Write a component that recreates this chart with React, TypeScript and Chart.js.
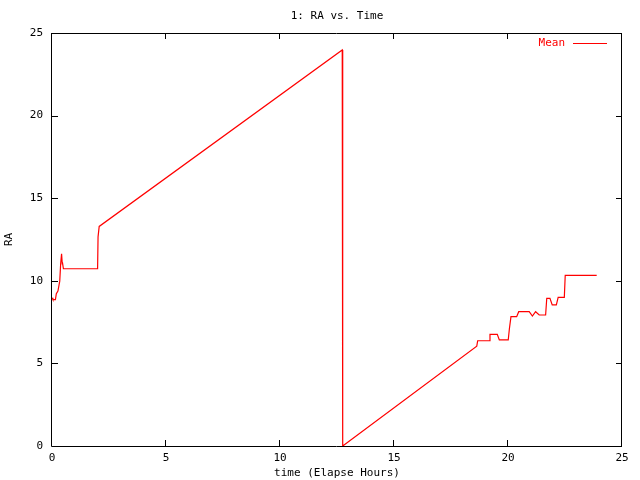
import React, { useEffect, useRef } from "react";
import { Chart, registerables } from "chart.js";

Chart.register(...registerables);

const chartTitle = "1: RA vs. Time";
const xAxisTitle = "time (Elapse Hours)";
const yAxisTitle = "RA";
const seriesLabel = "Mean";

const xTicks = [0, 5, 10, 15, 20, 25];
const yTicks = [0, 5, 10, 15, 20, 25];

const timeHours = [
  0, 0.04, 0.15, 0.19, 0.26, 0.34, 0.38, 0.42, 0.45, 0.46, 0.5, 1.98,
  2.0, 2.02, 2.07, 12.73, 12.73, 12.76, 12.76, 18.63, 18.67, 19.17, 19.21,
  19.53, 19.62, 20.01, 20.06, 20.13, 20.38, 20.47, 20.93, 21.07, 21.21,
  21.37, 21.65, 21.7, 21.84, 21.94, 22.12, 22.2, 22.47, 22.51, 23.89,
];

const raMean = [
  8.98, 8.86, 8.86, 9.22, 9.38, 9.98, 11.03, 11.63, 11.03, 11.1, 10.73, 10.73,
  10.77, 12.66, 13.29, 23.97, 12.04, 12.04, 0, 6.04, 6.37, 6.37, 6.76,
  6.76, 6.42, 6.42, 7.08, 7.83, 7.83, 8.13, 8.13, 7.87, 8.13,
  7.93, 7.93, 8.94, 8.94, 8.54, 8.54, 9.0, 9.0, 10.33, 10.33,
];

const FONT = "'DejaVu Sans Mono', monospace";

const gnuFrame = {
  id: "gnuFrame",
  beforeDatasetsDraw(chart: any) {
    const { ctx, chartArea } = chart;
    const { left, right, top, bottom } = chartArea;
    const xs = chart.scales.x;
    const ys = chart.scales.y;
    const tl = 6;
    ctx.save();
    ctx.strokeStyle = "#000";
    ctx.lineWidth = 1;
    ctx.beginPath();
    ctx.rect(Math.round(left) - 0.5, Math.round(top) + 0.5, Math.round(right - left), Math.round(bottom - top));
    for (const v of xTicks) {
      const px = Math.round(xs.getPixelForValue(v)) - 0.5;
      ctx.moveTo(px, bottom);
      ctx.lineTo(px, bottom - tl);
      ctx.moveTo(px, top);
      ctx.lineTo(px, top + tl);
    }
    for (const v of yTicks) {
      const py = Math.round(ys.getPixelForValue(v)) + 0.5;
      ctx.moveTo(left, py);
      ctx.lineTo(left + tl, py);
      ctx.moveTo(right, py);
      ctx.lineTo(right - tl, py);
    }
    ctx.stroke();
    ctx.restore();
  },
  afterDraw(chart: any) {
    const { ctx, chartArea } = chart;
    const ds = chart.data.datasets[0];
    const y = Math.round(chartArea.top + 10) + 0.5;
    const lineEnd = chartArea.right - 15;
    const lineStart = chartArea.right - 49;
    ctx.save();
    ctx.font = `11px ${FONT}`;
    ctx.fillStyle = ds.borderColor;
    ctx.textAlign = "right";
    ctx.textBaseline = "middle";
    ctx.fillText(ds.label, chartArea.right - 57, y);
    ctx.strokeStyle = ds.borderColor;
    ctx.lineWidth = 1;
    ctx.beginPath();
    ctx.moveTo(lineStart, y);
    ctx.lineTo(lineEnd, y);
    ctx.stroke();
    ctx.restore();
  },
};

export default function App() {
  const ref = useRef<HTMLCanvasElement | null>(null);

  useEffect(() => {
    if (!ref.current) return;
    const points = timeHours.map((t, i) => ({ x: t, y: raMean[i] }));
    const chart = new Chart(ref.current, {
      type: "line",
      data: {
        datasets: [
          {
            label: seriesLabel,
            data: points,
            borderColor: "#ff0000",
            backgroundColor: "#ff0000",
            borderWidth: 1.2,
            pointRadius: 0,
            tension: 0,
            fill: false,
          },
        ],
      },
      options: {
        responsive: false,
        animation: false,
        layout: { padding: { top: 0, right: 18, bottom: 0, left: 0 } },
        plugins: {
          legend: { display: false },
          tooltip: { enabled: false },
          title: {
            display: true,
            text: chartTitle,
            fullSize: false,
            color: "#000",
            font: { family: FONT, size: 11, weight: "normal" },
            padding: { top: 10, bottom: 9.8 },
          },
        },
        scales: {
          x: {
            type: "linear",
            min: 0,
            max: 25,
            afterFit: (s: any) => {
              s.height = 34;
            },
            afterBuildTicks: (s: any) => {
              s.ticks = xTicks.map((v) => ({ value: v }));
            },
            grid: { display: false, drawTicks: false },
            border: { display: false },
            ticks: {
              color: "#000",
              padding: 6,
              maxRotation: 0,
              font: { family: FONT, size: 11 },
            },
            title: {
              display: true,
              text: xAxisTitle,
              color: "#000",
              font: { family: FONT, size: 11 },
              padding: { top: 0, bottom: 0.6 },
            },
          },
          y: {
            type: "linear",
            min: 0,
            max: 25,
            afterFit: (s: any) => {
              s.width = 52;
            },
            afterBuildTicks: (s: any) => {
              s.ticks = yTicks.map((v) => ({ value: v }));
            },
            grid: { display: false, drawTicks: false },
            border: { display: false },
            ticks: {
              color: "#000",
              padding: 9,
              font: { family: FONT, size: 11 },
            },
            title: {
              display: true,
              text: yAxisTitle,
              color: "#000",
              font: { family: FONT, size: 11 },
              padding: { top: 3, bottom: 0 },
            },
          },
        },
      },
      plugins: [gnuFrame],
    });
    return () => chart.destroy();
  }, []);

  return (
    <div style={{ position: "absolute", left: 0, top: 0, width: 640, height: 480, background: "#fff" }}>
      <canvas ref={ref} width={640} height={480} />
    </div>
  );
}
